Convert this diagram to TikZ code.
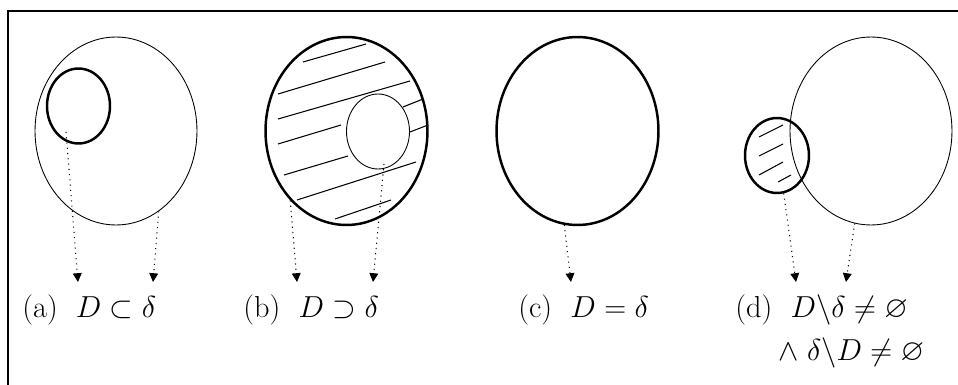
\documentclass[tikz,border=0pt]{standalone}
\usepackage{amsmath,amssymb}
\usetikzlibrary{arrows.meta,shapes.geometric,positioning}

\begin{document}
\begin{tikzpicture}[x=0.02cm,y=-0.02cm,
  set/.style={draw,ellipse,inner sep=0pt,line width=0.5pt},
  bigset/.style={set,minimum width=3.24cm,minimum height=3.76cm},
  smallset/.style={set,minimum width=1.26cm,minimum height=1.5cm},
  bold/.style={line width=1.4pt},
  ptr/.style={line width=0.6pt,dash pattern=on 0.6pt off 2.4pt,-{Triangle[width=5pt,length=5pt]}},
  hatch/.style={line width=0.6pt},
  lbl/.style={anchor=base west,inner sep=0pt,font=\LARGE}
]
\useasboundingbox (0,0) rectangle (958,385);
\draw[line width=0.6pt] (8,385) -- (8,11) -- (958,11);

% (a) D inside delta
\node[bigset] (da) at (116,131) {};
\node[smallset,bold] (Da) at (78.5,106) {};
\coordinate (sa) at (66,132);
\coordinate (ta1) at (78,282);
\coordinate (ta2) at (153,282);
\draw[ptr] (sa) -- (ta1);
\draw[ptr] (da.298) -- (ta2);
\node[lbl] (la) at (22,317) {(a)\hspace{0.6em}$D\subset\delta$};

% (b) delta inside D
\node[bigset,bold] (Db) at (346.5,131) {};
\node[smallset] (db) at (378,131.5) {};
\foreach \xa/\ya/\xb/\yb in {303/62/366/44, 278/94/385/62, 278/119/410/81, 403/107/423/99,
  278/144/341/125, 410/132/428/125, 284/175/348/156, 297/200/416/162, 335/219/391/200}
  \draw[hatch] (\xa,\ya) -- (\xb,\yb);
\coordinate (sb) at (384,164);
\coordinate (tb1) at (297,282);
\coordinate (tb2) at (373,282);
\draw[ptr] (Db.231) -- (tb1);
\draw[ptr] (sb) -- (tb2);
\node[lbl] (lb) at (243,317) {(b)\hspace{0.6em}$D\supset\delta$};

% (c) equal
\node[bigset,bold] (Dc) at (577.5,131) {};
\coordinate (tc) at (571,282);
\draw[ptr] (Dc.262) -- (tc);
\node[lbl] (lc) at (518,317) {(c)\hspace{0.6em}$D=\delta$};

% (d) overlap
\node[bigset] (dd) at (871,131) {};
\node[smallset,bold,minimum width=1.28cm] (Dd) at (777,155.5) {};
\foreach \xa/\ya/\xb/\yb in {759/137/783/125, 759/156/783/144, 759/175/783/162, 778/182/791/175}
  \draw[hatch] (\xa,\ya) -- (\xb,\yb);
\coordinate (td1) at (796,282);
\coordinate (td2) at (846,282);
\draw[ptr] (Dd.280) -- (td1);
\draw[ptr] (dd.260) -- (td2);
\node[lbl] (ld) at (735,317) {(d)\hspace{0.6em}$D\backslash\delta\neq\varnothing$};
\node[lbl] (ld2) at (778,360) {$\wedge\;\delta\backslash D\neq\varnothing$};
\end{tikzpicture}
\end{document}
